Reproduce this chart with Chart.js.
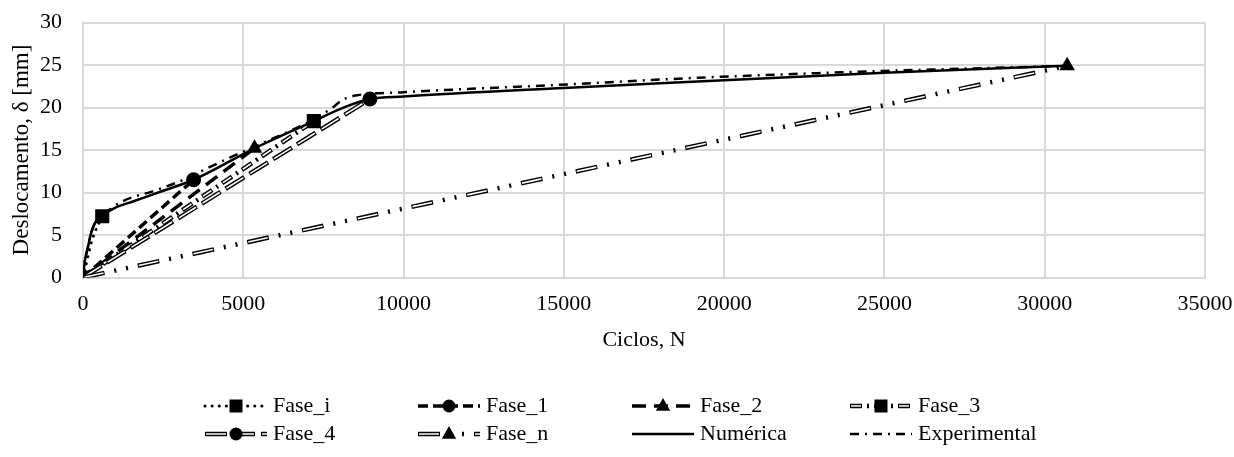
<!DOCTYPE html>
<html>
<head>
<meta charset="utf-8">
<script src="https://cdn.jsdelivr.net/npm/chart.js@4.4.1/dist/chart.umd.min.js"></script>
<style>
  body { margin: 0; background: #fff; }
  #caixa { width: 1234px; height: 457px; }
</style>
</head>
<body>
<div id="caixa"><canvas id="grafico"></canvas></div>
<script>
// valores: ciclos N e deslocamento em mm
const ciclosFaseI = [0, 150, 250, 400, 600];
const deslocFaseI = [0, 2.4, 4.0, 5.6, 7.2];
const ciclosFase1 = [0, 3450];
const deslocFase1 = [0, 11.5];
const ciclosFase2 = [0, 5350];
const deslocFase2 = [0, 15.2];
const ciclosFase3 = [0, 7200];
const deslocFase3 = [0, 18.4];
const ciclosFase4 = [0, 8950];
const deslocFase4 = [0, 21.0];
const ciclosFaseN = [0, 30700];
const deslocFaseN = [0, 24.9];
const ciclosNumerica = [0, 60, 150, 250, 400, 600, 1000, 1600, 2500, 3450, 5350, 7200, 8200, 8950, 10000, 15000, 20000, 25000, 30700];
const deslocNumerica = [0, 2.0, 3.5, 5.2, 6.6, 7.3, 8.2, 9.0, 10.2, 11.5, 15.2, 18.4, 20.1, 21.0, 21.3, 22.3, 23.2, 24.1, 24.9];
const ciclosExperimental = [0, 60, 150, 250, 400, 600, 1200, 2300, 3200, 3900, 4700, 5350, 7200, 7750, 8100, 8500, 10000, 14500, 19200, 25000, 30700];
const deslocExperimental = [0, 2.0, 3.5, 5.2, 6.6, 7.3, 8.9, 10.3, 11.6, 12.9, 14.3, 15.4, 18.6, 19.9, 20.9, 21.4, 21.8, 22.6, 23.5, 24.3, 24.9];

const ticksX = [0, 35000, 5000];   // min, max, passo
const ticksY = [0, 30, 5];

const fonte = "'Liberation Serif', 'Times New Roman', serif";

function pontos(xs, ys) {
  return xs.map((x, i) => ({ x: x, y: ys[i] }));
}

// estilos de linha parecidos com os do Excel
const estilos = {
  'Fase_i':       { largura: 3, traco: [0.1, 7], cap: 'round', marcador: 'quadrado', raio: 10, origem: true, curva: true },
  'Fase_1':       { largura: 3.5, traco: [10, 5], marcador: 'circulo', raio: 7.5 },
  'Fase_2':       { largura: 3.5, traco: [14, 8], marcador: 'triangulo', raio: 9 },
  'Fase_3':       { largura: 4.5, traco: [12, 5, 2, 5], oco: { largura: 1.6, traco: [10, 14] }, marcador: 'quadrado', raio: 10 },
  'Fase_4':       { largura: 4.5, traco: [22, 6], oco: { largura: 1.6, traco: [20, 8] }, marcador: 'circulo', raio: 7.5 },
  'Fase_n':       { largura: 4.5, traco: [22, 10, 2, 10, 2, 10], oco: { largura: 1.6, traco: [20, 36] }, marcador: 'triangulo', raio: 9 },
  'Numérica':     { largura: 2.5, traco: [], curva: true },
  'Experimental': { largura: 2.5, traco: [9, 6, 2, 6], curva: true }
};

const colunasLegenda = [205, 418, 632, 850];
const linhasLegenda = [406, 434];
const posLegenda = {
  'Fase_i': [0, 0], 'Fase_1': [1, 0], 'Fase_2': [2, 0], 'Fase_3': [3, 0],
  'Fase_4': [0, 1], 'Fase_n': [1, 1], 'Numérica': [2, 1], 'Experimental': [3, 1]
};

const estiloPontoChart = { quadrado: 'rect', circulo: 'circle', triangulo: 'triangle' };

let ordem = 100;
function serie(nome, xs, ys) {
  const e = estilos[nome];
  const dados = pontos(xs, ys);
  const raios = xs.map((x, i) => {
    if (!e.marcador) return 0;
    if (i === xs.length - 1 || (i === 0 && e.origem)) return e.raio;
    return 0;
  });
  const base = {
    label: nome,
    data: dados,
    borderColor: '#000',
    backgroundColor: '#000',
    borderWidth: e.largura,
    borderDash: e.traco,
    borderCapStyle: e.cap || 'butt',
    cubicInterpolationMode: e.curva ? 'monotone' : 'default',
    pointStyle: estiloPontoChart[e.marcador] || 'circle',
    pointRadius: e.oco ? 0 : raios,
    pointBackgroundColor: '#000',
    pointBorderWidth: 0,
    order: ordem--
  };
  const lista = [base];
  if (e.oco) {
    lista.push({
      label: nome + '_oco',
      data: dados,
      borderColor: '#fff',
      borderWidth: e.oco.largura,
      borderDash: e.oco.traco,
      borderDashOffset: -1,
      pointStyle: estiloPontoChart[e.marcador],
      pointRadius: raios,
      pointBackgroundColor: '#000',
      pointBorderWidth: 0,
      order: ordem--
    });
  }
  return lista;
}

function marcador(ctx, tipo, x, y, r) {
  ctx.fillStyle = '#000';
  ctx.beginPath();
  if (tipo === 'quadrado') {
    ctx.rect(x - r, y - r, 2 * r, 2 * r);
  } else if (tipo === 'circulo') {
    ctx.arc(x, y, r, 0, Math.PI * 2);
  } else if (tipo === 'triangulo') {
    ctx.moveTo(x, y - r);
    ctx.lineTo(x + r * 0.9, y + r * 0.6);
    ctx.lineTo(x - r * 0.9, y + r * 0.6);
    ctx.closePath();
  }
  ctx.fill();
}

const legendaExcel = {
  id: 'legendaExcel',
  afterDraw(chart) {
    const ctx = chart.ctx;
    const comp = 62;
    ctx.save();
    ctx.font = '22px ' + fonte;
    ctx.textBaseline = 'middle';
    Object.keys(posLegenda).forEach(nome => {
      const e = estilos[nome];
      const x0 = colunasLegenda[posLegenda[nome][0]];
      const y = linhasLegenda[posLegenda[nome][1]];
      ctx.lineCap = e.cap || 'butt';
      ctx.strokeStyle = '#000';
      ctx.lineWidth = e.largura;
      ctx.setLineDash(e.traco);
      ctx.lineDashOffset = 0;
      ctx.beginPath();
      ctx.moveTo(x0, y);
      ctx.lineTo(x0 + comp, y);
      ctx.stroke();
      if (e.oco) {
        ctx.strokeStyle = '#fff';
        ctx.lineWidth = e.oco.largura;
        ctx.setLineDash(e.oco.traco);
        ctx.lineDashOffset = -1;
        ctx.beginPath();
        ctx.moveTo(x0, y);
        ctx.lineTo(x0 + comp, y);
        ctx.stroke();
      }
      ctx.setLineDash([]);
      if (e.marcador) marcador(ctx, e.marcador, x0 + comp / 2, y, e.marcador === 'triangulo' ? 8 : 6.5);
      ctx.fillStyle = '#000';
      ctx.fillText(nome, x0 + comp + 6, y);
    });
    ctx.restore();
  }
};

const datasets = [].concat(
  serie('Fase_i', ciclosFaseI, deslocFaseI),
  serie('Fase_1', ciclosFase1, deslocFase1),
  serie('Fase_2', ciclosFase2, deslocFase2),
  serie('Fase_3', ciclosFase3, deslocFase3),
  serie('Fase_4', ciclosFase4, deslocFase4),
  serie('Fase_n', ciclosFaseN, deslocFaseN),
  serie('Numérica', ciclosNumerica, deslocNumerica),
  serie('Experimental', ciclosExperimental, deslocExperimental)
);

new Chart(document.getElementById('grafico'), {
  type: 'line',
  data: { datasets: datasets },
  options: {
    responsive: true,
    maintainAspectRatio: false,
    animation: false,
    layout: { padding: { top: 22.5, right: 29, bottom: 100, left: 0 } },
    plugins: {
      legend: { display: false },
      tooltip: { enabled: false }
    },
    scales: {
      x: {
        type: 'linear',
        min: ticksX[0], max: ticksX[1],
        ticks: {
          stepSize: ticksX[2], color: '#000', padding: 14,
          font: { family: fonte, size: 22 },
          maxRotation: 0,
          callback: v => String(v)
        },
        grid: { color: '#d9d9d9', lineWidth: 2, drawTicks: false },
        border: { color: '#d9d9d9', width: 2 },
        title: { display: true, text: 'Ciclos, N', color: '#000', font: { family: fonte, size: 22 }, padding: { top: 0, bottom: 4 } },
        afterFit: s => { s.height = 79.5; s.paddingLeft = 0; s.paddingRight = 0; }
      },
      y: {
        min: ticksY[0], max: ticksY[1],
        ticks: {
          stepSize: ticksY[2], color: '#000', padding: 21,
          font: { family: fonte, size: 22 },
          callback: v => String(v)
        },
        grid: { color: '#d9d9d9', lineWidth: 2, drawTicks: false },
        border: { color: '#d9d9d9', width: 2 },
        title: { display: true, text: 'Deslocamento, δ [mm]', color: '#000', font: { family: fonte, size: 23 }, padding: { top: 8, bottom: 0 } },
        afterFit: s => { s.width = 83; s.paddingTop = 0; s.paddingBottom = 0; }
      }
    }
  },
  plugins: [legendaExcel]
});
</script>
</body>
</html>
